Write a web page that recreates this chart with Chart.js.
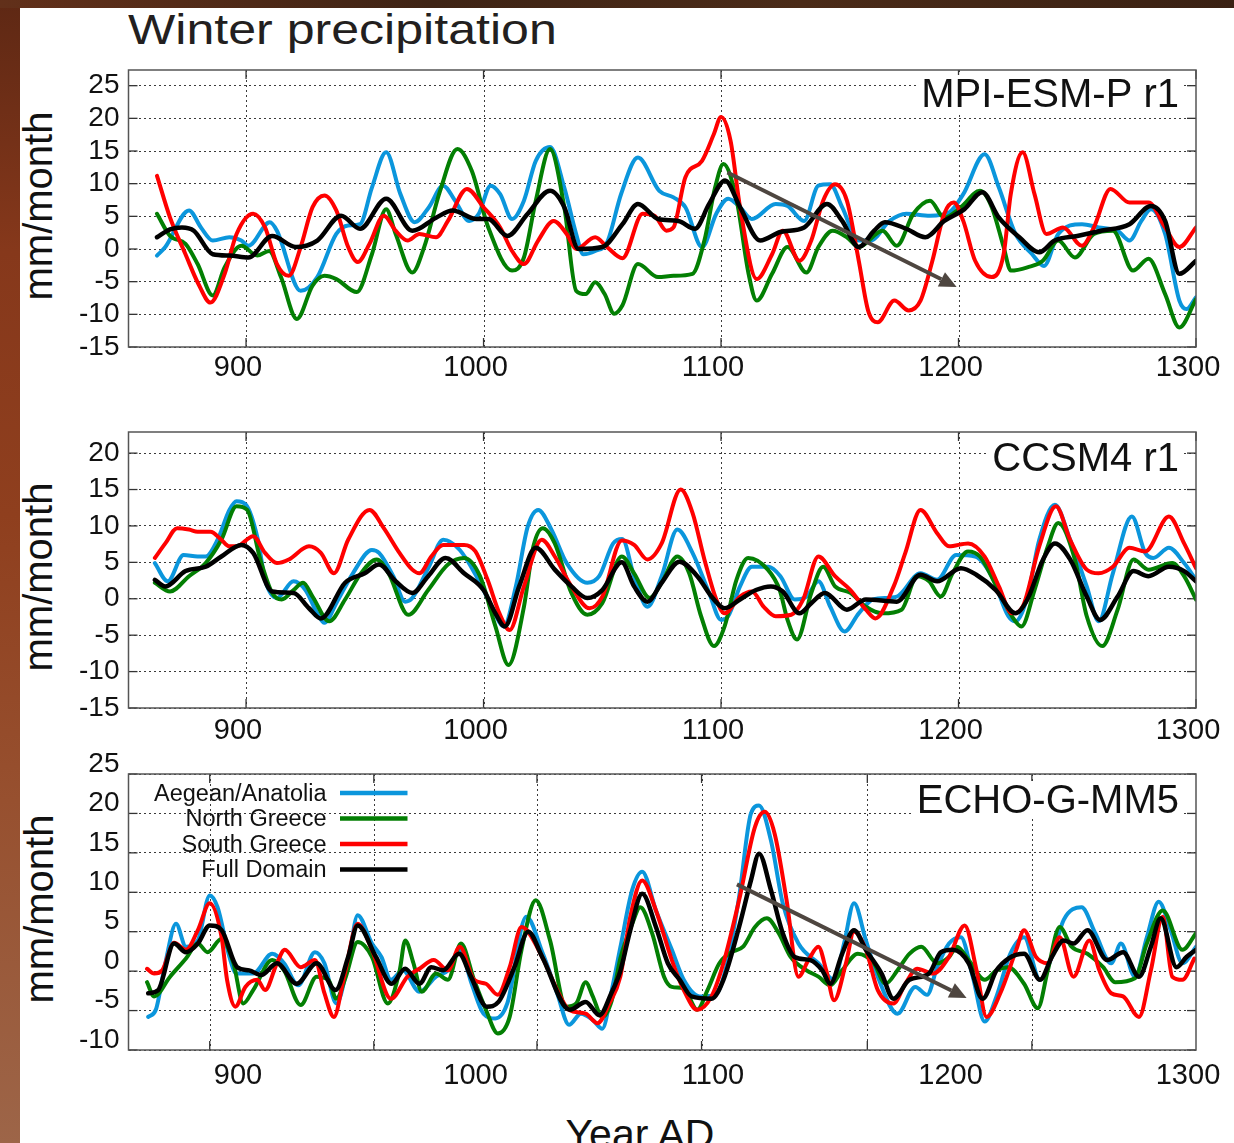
<!DOCTYPE html>
<html>
<head>
<meta charset="utf-8">
<title>Winter precipitation</title>
<script src="https://cdn.jsdelivr.net/npm/chart.js@4.4.1/dist/chart.umd.min.js"></script>
<style>
  html, body { margin: 0; padding: 0; }
  body {
    width: 1234px; height: 1143px; overflow: hidden; position: relative;
    background: linear-gradient(180deg, #5e2814 0%, #86381b 22%, #8f3f1e 45%, #97502f 70%, #9d6548 100%);
  }
  #topband { position: absolute; left: 0; top: 0; width: 1234px; height: 8px;
    background: linear-gradient(90deg, #62301a 0%, #3f2415 35%, #4b2b18 65%, #3a2113 100%); }
  #sheet { position: absolute; left: 20px; top: 8px; width: 1214px; height: 1135px; background: #fff; }
  .title { position: absolute; left: 128px; top: 8px; font: 43px/43px "Liberation Sans", Arial, sans-serif;
    color: #231f20; white-space: nowrap; transform: scaleX(1.165); transform-origin: left top; }
  .ylab { position: absolute; width: 300px; height: 40px; text-align: center; white-space: nowrap;
    font: 40px/40px "Liberation Sans", Arial, sans-serif; color: #111; transform: rotate(-90deg); }
  .xlab { position: absolute; left: 540px; width: 200px; top: 1114px; text-align: center;
    font: 41px/41px "Liberation Sans", Arial, sans-serif; color: #111; white-space: nowrap; }
  canvas { position: absolute; left: 0; }
</style>
</head>
<body>
<div id="topband"></div>
<div id="sheet"></div>
<div class="title">Winter precipitation</div>
<div class="ylab" style="left:-112px; top:186px;">mm/month</div>
<div class="ylab" style="left:-112px; top:557px;">mm/month</div>
<div class="ylab" style="left:-111px; top:889px;">mm/month</div>
<div class="xlab">Year AD</div>
<canvas id="c1" width="1234" height="354" style="top:41px"></canvas>
<canvas id="c2" width="1234" height="342" style="top:403px"></canvas>
<canvas id="c3" width="1234" height="398" style="top:745px"></canvas>
<script>
// series and labels
const seriesNames = ['Aegean/Anatolia', 'North Greece', 'South Greece', 'Full Domain'];
const panelNames = ['MPI-ESM-P r1', 'CCSM4 r1', 'ECHO-G-MM5'];
const xTickYears = [900, 1000, 1100, 1200, 1300];
// the ECHO panel has its vertical grid at other years than its labels
const echoGridYears = [884.7, 953.8, 1022.5, 1091.8, 1161.6, 1230.9];

// MPI-ESM-P r1  [year, mm/month]
const mpiAegean = [[862.5,-1.0],[866,0.3],[876,5.9],[881,3.3],[886,1.3],[893,1.8],[898,1.3],[901,0.5],[910,4.1],[913,2.8],[923,-6.4],[930,-4.3],[938,2.3],[943,3.6],[948,3.8],[953,9.4],[959,14.8],[965,8.4],[971,4.1],[977,6.4],[983,9.7],[988,7.4],[994,4.3],[998,5.4],[1003,9.7],[1007,8.4],[1012,4.6],[1017,7.4],[1022,13.5],[1028,15.6],[1034,9.4],[1039,2.3],[1042,-0.8],[1047,-0.3],[1052,1.0],[1058,8.5],[1065,14.0],[1074,8.9],[1080,7.9],[1085,6.4],[1092,0.3],[1098,5.4],[1103,7.7],[1108,6.4],[1113,4.6],[1123,6.9],[1128,6.6],[1135,4.3],[1141,9.7],[1146,9.9],[1151,6.4],[1158,1.3],[1163,1.3],[1171,4.3],[1178,5.4],[1188,5.1],[1196,5.6],[1202,8.4],[1211,14.5],[1217,9.4],[1224,2.3],[1231,-0.8],[1236,-2.6],[1242,2.3],[1252,3.8],[1259,3.3],[1267,2.8],[1272,1.3],[1277,4.3],[1281,6.1],[1287,2.3],[1293,-7.9],[1296,-9.2],[1300,-7.4]];
const mpiNorth = [[862.5,5.4],[868,2.0],[874.5,0.8],[879.6,-2.3],[886,-7.1],[891,-2.8],[898,0.5],[904.7,-1.0],[909.7,-0.3],[914.7,-4.3],[921.4,-10.7],[928,-5.6],[933,-4.1],[938,-4.6],[946.6,-6.6],[953,-0.8],[959,6.1],[963,2.3],[970,-3.6],[975,0.3],[981.7,8.9],[989,15.3],[995,12.0],[1002,3.3],[1012,-3.3],[1017,-1.3],[1022,7.4],[1028,15.3],[1034,6.4],[1039,-6.4],[1043,-6.9],[1047,-5.1],[1051,-6.9],[1055,-9.9],[1058.5,-8.6],[1065,-2.3],[1073.5,-4.3],[1080,-4.1],[1088,-3.8],[1093,1.3],[1097.5,9.4],[1101,13.0],[1106.6,7.4],[1111.6,-3.8],[1115,-7.9],[1121.5,-3.8],[1128,0.3],[1136,-3.6],[1141,0.3],[1147,2.8],[1153,1.8],[1158,0.3],[1168,2.8],[1174,0.5],[1181,5.4],[1188,7.4],[1194,4.8],[1201,6.4],[1209,8.9],[1214,6.4],[1219,0.3],[1222,-3.3],[1229,-2.8],[1235.5,-1.8],[1242,1.3],[1249,-1.3],[1257,2.3],[1265,2.8],[1273.5,-3.3],[1280,-1.5],[1287,-6.9],[1293,-12.0],[1300,-7.7]];
const mpiSouth = [[862.5,11.2],[868,4.8],[874.5,-0.8],[880,-5.4],[885,-8.2],[891,-3.8],[896,2.3],[903,5.4],[908,3.3],[913,-2.3],[918,-4.1],[923,0.3],[928,6.4],[933,8.2],[938,5.9],[943,0.3],[947,-2.0],[952,0.8],[958,5.1],[963,2.8],[968,1.3],[973,2.3],[980,1.8],[985,4.3],[993,9.2],[1000,6.4],[1007,3.3],[1012,-0.3],[1017,-2.3],[1023,1.3],[1029.5,4.3],[1035,2.3],[1039,0],[1047,1.8],[1052,0.3],[1058.5,-1.4],[1067,5.4],[1072,5.1],[1077,2.8],[1080,3.3],[1085,11.0],[1092,13.5],[1097,17.6],[1100,20.2],[1104,16.6],[1108,6.4],[1115,-4.6],[1121.5,-0.8],[1126,2.8],[1133,-1.8],[1138,1.3],[1143,7.4],[1148,9.9],[1153,7.4],[1158,-1.8],[1162,-9.5],[1166,-11.2],[1173,-7.9],[1179,-9.4],[1184,-7.9],[1189,-1.8],[1194,5.4],[1198,7.1],[1202,4.3],[1207,-1.8],[1214,-4.3],[1219,-0.8],[1222,8.4],[1227,14.8],[1232,8.4],[1237,2.3],[1244,3.3],[1252,0.5],[1257,3.3],[1264,9.2],[1272,7.1],[1280,7.1],[1287,3.3],[1293,0.3],[1300,3.3]];
const mpiFull = [[862.5,1.8],[868,3.0],[873,3.3],[878,2.8],[886,-0.8],[893,-1.0],[901,-1.3],[911,2.0],[921,0.3],[930,1.3],[940,5.1],[948,3.1],[959,7.7],[970,2.8],[980,4.8],[987,5.9],[997,4.6],[1002,4.6],[1010,2.0],[1018.6,5.4],[1028,8.9],[1034,6.4],[1040,0],[1050,0.3],[1058.5,3.8],[1065,6.9],[1073.5,4.6],[1082,4.3],[1089,3.1],[1095,6.9],[1101.7,10.5],[1108,6.4],[1116.5,1.3],[1125,2.6],[1135,3.3],[1144.6,6.9],[1151,4.3],[1158,0.3],[1164.5,2.8],[1169,4.1],[1178,3.1],[1186,1.8],[1194,4.3],[1202.5,6.1],[1210,8.7],[1217,4.8],[1225.6,1.8],[1234,-0.5],[1240.5,1.3],[1250,2.0],[1260,2.8],[1272,3.8],[1281,6.6],[1287,4.3],[1293,-3.8],[1300,-1.8]];

// CCSM4 r1
const ccsmAegean = [[861.6,4.9],[867,2.4],[873.7,6.0],[879.6,5.8],[883,5.8],[888,8.1],[893,12.2],[896,13.4],[900,12.9],[905,8.1],[908,2.6],[913,0.1],[920,2.4],[925,1.2],[930,-2.0],[933,-3.3],[938,-0.6],[945,3.5],[953,6.7],[956,6.3],[962,3.1],[967,-0.4],[970,0.1],[977,4.4],[983,8.1],[990,6.7],[997,3.1],[1003.5,-1.1],[1008.5,-3.8],[1013.6,1.7],[1018.6,9.9],[1023,12.2],[1028.6,9.5],[1035,4.9],[1043.7,2.2],[1048.7,3.1],[1054.6,7.6],[1058.4,8.2],[1063.4,3.1],[1069,-1.1],[1075,3.1],[1081.6,9.5],[1088,6.3],[1095,0.8],[1100,-2.9],[1103,-2.4],[1108,1.7],[1113,4.4],[1120,4.4],[1125,3.1],[1131,-0.1],[1136,0.3],[1141,2.4],[1146,-1.1],[1152,-4.5],[1158,-2.0],[1164,-0.1],[1174,0.3],[1184,3.5],[1191,2.6],[1199,6.0],[1207,5.8],[1214,3.1],[1221,-2.4],[1224,-3.1],[1229,0.3],[1234,8.1],[1240.6,12.9],[1247,8.1],[1254,1.7],[1259,-3.1],[1265,3.5],[1273,11.3],[1278.6,6.3],[1282,5.6],[1288.6,7.0],[1295,4.9],[1300,2.6]];
const ccsmNorth = [[861.6,2.2],[868,1.0],[876,3.1],[883,4.9],[889.6,8.1],[896,12.7],[900.5,12.2],[906,5.4],[911,0.8],[915,-0.1],[920,1.2],[924,2.2],[928,0.3],[935,-3.1],[941.7,-0.1],[948.4,3.5],[955,5.4],[960,3.5],[968.3,-2.2],[976.7,1.2],[985,4.7],[991.8,5.6],[998.5,3.1],[1005,-3.8],[1010.5,-9.1],[1017,-1.1],[1021,7.2],[1025,9.7],[1030,7.6],[1037,0.8],[1043.7,-2.2],[1050,-0.6],[1058.2,5.8],[1063.4,3.5],[1070,0.1],[1075,2.2],[1081.6,5.8],[1086.6,3.5],[1091.6,-2.4],[1097,-6.5],[1101.5,-3.8],[1106.5,2.6],[1111.4,5.6],[1119.7,4.0],[1124.7,1.2],[1128,-2.9],[1132,-5.6],[1138,0.8],[1143,4.4],[1148,1.7],[1154.5,0.8],[1161,-1.1],[1168,-2.0],[1176,-1.5],[1182.6,3.1],[1187.6,2.4],[1192.5,0.3],[1197.5,3.5],[1204,6.5],[1209,5.8],[1216,1.7],[1222.5,-2.4],[1226.5,-3.8],[1232,1.2],[1237.6,7.2],[1242,10.4],[1249,5.4],[1254,-2.4],[1260.5,-6.5],[1267,-1.5],[1273.7,5.4],[1280,4.0],[1290,4.9],[1295,3.1],[1300,-0.1]];
const ccsmSouth = [[861.6,5.6],[866,7.6],[871,9.7],[876,9.5],[879.6,9.2],[885,9.2],[889.6,8.1],[893,7.2],[896,7.2],[903,8.6],[908,6.3],[913,4.9],[918,5.4],[926.5,7.2],[931.5,6.3],[937,3.5],[943,8.1],[952,12.2],[958,9.7],[964.6,6.3],[970,4.0],[973,3.5],[978,5.8],[983,7.4],[991.8,7.4],[996.6,6.5],[1001.7,2.6],[1006.7,-2.0],[1011,-4.3],[1017,1.7],[1024.5,8.1],[1030,5.8],[1037,1.7],[1044.6,-1.3],[1050,0.3],[1058.2,8.0],[1063.4,7.4],[1069,5.4],[1075,7.6],[1083,15.0],[1088,11.8],[1093,5.4],[1098,-0.1],[1101.5,-2.0],[1108,0.3],[1113,1.0],[1118,-1.1],[1123,-2.4],[1129.6,-2.2],[1134.6,-0.1],[1141,5.8],[1148,3.1],[1154.5,1.2],[1161,-1.5],[1165,-2.7],[1172.7,1.7],[1177.6,6.3],[1184,12.2],[1191,9.0],[1196,7.2],[1204,7.6],[1211,5.8],[1217,1.7],[1222.5,-2.0],[1227,-1.1],[1234,7.2],[1241,12.7],[1247,8.1],[1254,4.0],[1259,3.5],[1265,4.4],[1272,7.0],[1278.6,6.5],[1288.6,11.3],[1295,7.6],[1300,4.2]];
const ccsmFull = [[861.6,2.6],[866,1.7],[874.5,3.8],[883,4.4],[889.6,5.8],[898,7.4],[903,6.3],[911,1.0],[920,0.8],[926.5,-1.3],[931.5,-2.7],[941.7,2.2],[950,3.5],[956,4.7],[963,2.4],[970,0.8],[976.7,3.1],[984,5.6],[991.8,3.5],[1000,1.2],[1005,-2.0],[1009,-3.8],[1015,1.7],[1022,7.0],[1030,4.0],[1037,1.7],[1043.7,0.1],[1050,1.2],[1058.2,5.0],[1063.4,1.7],[1069,-0.4],[1075,2.2],[1082.5,5.1],[1090,3.1],[1096.5,0.1],[1101.5,-1.3],[1108,-0.1],[1114.7,1.2],[1121,1.7],[1126,1.0],[1133,-2.0],[1138,-0.6],[1143.7,0.8],[1153,-1.5],[1161,-0.1],[1174,-0.4],[1184,3.3],[1191,2.4],[1201,4.2],[1207.5,3.3],[1215.7,1.2],[1224,-2.0],[1229,-0.1],[1235.6,5.4],[1240.6,7.6],[1247,5.4],[1254,0.3],[1259.6,-2.9],[1267,0.3],[1273.7,3.8],[1280,3.1],[1288.6,4.4],[1295,3.8],[1300,2.4]];

// ECHO-G-MM5
const echoAegean = [[858.8,-5.8],[862,-4.9],[866,1.0],[870.5,6.0],[874.7,3.1],[879.7,3.9],[884.7,9.6],[888,8.1],[893,1.8],[896,-0.3],[903,-0.3],[911,2.2],[916,1.0],[922,-1.8],[929,2.4],[933,1.0],[938,-4.1],[943,1.0],[947,7.1],[953,3.5],[957,1.8],[961,-1.1],[966,0.1],[973,-2.6],[980,-0.7],[985,0.1],[990,2.7],[995,-1.6],[1000,-5.4],[1005,-6.0],[1010,-4.1],[1018,6.9],[1025,2.2],[1031,-2.8],[1036,-6.8],[1041,-5.4],[1046,-6.2],[1050,-7.3],[1054,-2.4],[1057.6,3.0],[1062.6,10.3],[1066.8,12.6],[1072.6,7.7],[1079.3,2.7],[1084.3,-1.1],[1091,-3.2],[1097.6,-3.0],[1102.6,1.0],[1107.6,9.4],[1112.6,20.0],[1116,21.0],[1121,16.6],[1126,8.6],[1132.6,3.5],[1141,1.0],[1147.6,-1.1],[1151.8,3.5],[1156,8.6],[1161,3.9],[1166,-0.7],[1174.3,-5.4],[1181.8,-2.0],[1186.8,-3.0],[1191,0.5],[1196,3.5],[1201,4.3],[1206,-0.7],[1211,-6.4],[1216,-3.2],[1221.8,2.2],[1227.6,4.3],[1234.3,-1.1],[1239.3,1.8],[1244.3,6.5],[1251.8,8.1],[1257.6,4.8],[1264.3,1.0],[1268.4,3.5],[1274.3,-0.7],[1279.3,4.3],[1284.3,8.8],[1289.3,5.2],[1294.3,1.0],[1300,3.1]];
const echoNorth = [[858.3,-1.4],[861.3,-3.2],[868,-0.7],[874.7,1.6],[879.7,3.5],[883.8,2.4],[889.7,4.1],[894.7,1.0],[898.8,-4.1],[903,-2.4],[911,1.4],[916,0.1],[923,-4.3],[929.7,-0.7],[934.7,-1.1],[938,-3.5],[942,-0.7],[947,3.7],[953,1.8],[959.7,-4.1],[964.7,0.1],[967,3.9],[970.5,1.0],[974,-2.6],[980,-0.3],[985,-1.1],[990.5,3.5],[996,-1.1],[1001,-4.9],[1006,-7.9],[1011,-5.8],[1016,2.7],[1022,9.0],[1028,3.9],[1034.7,-4.5],[1039,-4.1],[1043,-1.4],[1046,-3.2],[1050,-5.8],[1054,-3.7],[1057.6,1.6],[1062.6,6.0],[1066,8.1],[1071,4.8],[1076,-0.7],[1079.3,-2.0],[1084.3,-2.2],[1090,-4.9],[1094.3,-2.4],[1099.3,1.0],[1104.3,2.4],[1109.3,3.1],[1114.3,5.6],[1119.3,6.7],[1124.3,4.8],[1129.3,1.8],[1136,0.1],[1141,-0.7],[1146,-1.8],[1151,0.1],[1157.6,2.2],[1164.3,1.0],[1169.3,-1.6],[1174.3,0.1],[1179.3,2.2],[1184.3,3.1],[1191,1.0],[1196,1.8],[1199.3,3.1],[1204.3,1.4],[1211,-1.1],[1216,0.1],[1221,0.5],[1227.6,-1.6],[1233.4,-4.7],[1237.6,0.1],[1242.6,5.6],[1247.6,3.1],[1254.3,2.2],[1260.9,0.5],[1265.9,-1.4],[1274.3,-0.9],[1279.3,3.5],[1286,7.7],[1294.3,2.7],[1300,4.8]];
const echoSouth = [[858.3,0.3],[861.3,-0.3],[864.7,0.1],[869.7,3.6],[874.7,2.7],[879.7,5.2],[884.7,8.6],[889.7,4.3],[892,-1.1],[895.5,-4.5],[899.7,-2.0],[904.7,-1.1],[908,-2.4],[913,1.0],[916.3,2.7],[923,0.5],[929,1.4],[933,-2.8],[937,-5.8],[941.3,-0.7],[947,6.0],[953,2.7],[961,-3.5],[968,-0.7],[973,0.3],[979,1.4],[985,0.1],[990,3.1],[996,-1.1],[1001,-1.6],[1006,-3.0],[1011,0.5],[1016,5.6],[1024.7,1.8],[1031,-2.4],[1036,-4.9],[1043,-5.4],[1048,-6.6],[1053,-4.1],[1057.6,-0.7],[1061.8,6.9],[1066.8,11.5],[1072.6,7.7],[1079.3,1.4],[1084.3,-2.4],[1090,-4.9],[1096,-3.2],[1101,1.0],[1107.6,9.0],[1114.3,18.3],[1118.4,20.2],[1122.6,17.4],[1127.6,9.0],[1132.6,-0.7],[1136.8,1.4],[1141,3.1],[1144.3,0.1],[1147.6,-3.7],[1152.6,1.0],[1156,5.0],[1161,2.7],[1166,-2.4],[1172.6,-4.1],[1177.6,-1.6],[1182.6,0.3],[1189.3,-0.3],[1196,1.8],[1202.6,5.8],[1207.6,0.1],[1211.8,-5.8],[1217.6,-2.8],[1224.3,2.7],[1227.6,5.2],[1232.6,1.8],[1237.6,1.0],[1242.6,4.3],[1248.4,-0.7],[1255.1,3.9],[1259.3,0.1],[1264.3,-2.8],[1269.3,-3.2],[1276,-5.8],[1281,0.1],[1286,6.9],[1290,-0.7],[1294.3,-1.1],[1299.3,1.6]];
const echoFull = [[858.8,-2.8],[863,-2.4],[869.7,3.5],[874.7,2.4],[879.7,3.5],[884.7,5.8],[889.7,5.2],[896.3,0.5],[901.3,0.1],[906.3,-0.5],[913,1.0],[921.3,-1.6],[929.7,1.0],[937.7,-2.4],[943,1.8],[947,5.8],[954.7,1.8],[961.3,-1.6],[967,0.3],[973,-1.6],[978,0.5],[983,0.1],[989.7,2.2],[994.7,-0.7],[1001.3,-4.5],[1006.3,-3.9],[1013,0.5],[1018.8,5.0],[1024.7,1.8],[1036.3,-4.9],[1043,-3.9],[1048.8,-5.6],[1053.8,-2.8],[1057.6,0.0],[1061.8,5.2],[1066.8,9.8],[1072.6,5.6],[1077.6,1.0],[1082.6,-1.1],[1087.6,-3.2],[1096,-3.5],[1101,-1.1],[1107.6,5.6],[1112.6,11.5],[1116,14.9],[1121,10.3],[1126,4.8],[1131,1.8],[1137.6,1.4],[1142.6,0.1],[1146,-1.6],[1151,2.2],[1156,5.2],[1161,2.7],[1167.6,-0.3],[1172.6,-3.5],[1179.3,-1.1],[1187.6,-0.3],[1192.6,2.4],[1197.6,2.7],[1204.3,1.0],[1210.1,-3.5],[1216,0.1],[1221,1.6],[1227.6,2.2],[1234.3,-1.1],[1239.3,1.8],[1244.3,3.9],[1248.4,3.5],[1254.3,5.2],[1262.6,1.4],[1269.3,2.4],[1276,-0.7],[1281,3.1],[1285.1,6.7],[1291.8,0.5],[1296,1.8],[1300,2.7]];

// trend arrows, [year, mm/month] of tail and head
const mpiArrow = [[1102.7, 11.7], [1199.2, -5.8]];
const echoArrow = [[1106.7, 11.0], [1203.4, -3.4]];

const colors = ['#0b96dc', '#037f03', '#ff0000', '#000000'];
const FONT = '"Liberation Sans", Arial, sans-serif';

function line(ctx, x1, y1, x2, y2) {
  ctx.beginPath(); ctx.moveTo(x1, y1); ctx.lineTo(x2, y2); ctx.stroke();
}

const panelDecor = {
  id: 'panelDecor',
  beforeDatasetsDraw(chart, args, o) {
    const ctx = chart.ctx, a = chart.chartArea, x = chart.scales.x, y = chart.scales.y;
    ctx.save();
    // dotted vertical grid
    ctx.strokeStyle = '#3a3a3a';
    ctx.lineWidth = 1;
    ctx.setLineDash([2, 3]);
    o.gridX.forEach(v => {
      const px = Math.round(x.getPixelForValue(v)) + 0.5;
      if (px < a.right - 3) line(ctx, px, a.top, px, a.bottom);
    });
    ctx.setLineDash([]);
    // inner tick marks on all four sides
    ctx.strokeStyle = '#333';
    ctx.lineWidth = 1.3;
    y.ticks.forEach(t => {
      const py = y.getPixelForValue(t.value);
      line(ctx, a.left, py, a.left + 9, py);
      line(ctx, a.right - 9, py, a.right, py);
    });
    o.gridX.forEach(v => {
      const px = x.getPixelForValue(v);
      line(ctx, px, a.top, px, a.top + 9);
      line(ctx, px, a.bottom - 9, px, a.bottom);
    });
    // model name, on a white patch
    ctx.font = '40px ' + FONT;
    const w = ctx.measureText(o.name).width;
    ctx.fillStyle = '#fff';
    ctx.fillRect(a.right - 17 - w - 4, a.top + o.nameY - 32, w + 8, 38);
    ctx.fillStyle = '#111';
    ctx.textAlign = 'right';
    ctx.textBaseline = 'alphabetic';
    ctx.fillText(o.name, a.right - 17, a.top + o.nameY);
    ctx.restore();
  },
  afterDatasetsDraw(chart, args, o) {
    const ctx = chart.ctx, a = chart.chartArea, x = chart.scales.x, y = chart.scales.y;
    ctx.save();
    ctx.strokeStyle = '#555';
    ctx.lineWidth = 1.5;
    ctx.strokeRect(a.left, a.top, a.right - a.left, a.bottom - a.top);

    if (o.arrow) {
      const x1 = x.getPixelForValue(o.arrow[0][0]), y1 = y.getPixelForValue(o.arrow[0][1]);
      const x2 = x.getPixelForValue(o.arrow[1][0]), y2 = y.getPixelForValue(o.arrow[1][1]);
      const ang = Math.atan2(y2 - y1, x2 - x1), head = 17, half = 8;
      const bx = x2 - head * Math.cos(ang), by = y2 - head * Math.sin(ang);
      ctx.strokeStyle = '#4e4640';
      ctx.fillStyle = '#4e4640';
      ctx.lineWidth = 4;
      line(ctx, x1, y1, bx, by);
      ctx.beginPath();
      ctx.moveTo(x2, y2);
      ctx.lineTo(bx + half * Math.sin(ang), by - half * Math.cos(ang));
      ctx.lineTo(bx - half * Math.sin(ang), by + half * Math.cos(ang));
      ctx.closePath();
      ctx.fill();
    }

    if (o.legend) {
      ctx.font = '23.5px ' + FONT;
      ctx.textAlign = 'right';
      ctx.textBaseline = 'alphabetic';
      chart.data.datasets.forEach((ds, i) => {
        const ry = a.top + 19 + i * 25.5;
        ctx.fillStyle = '#111';
        ctx.fillText(ds.label, a.left + 198, ry + 7.5);
        ctx.strokeStyle = ds.borderColor;
        ctx.lineWidth = 4.5;
        line(ctx, a.left + 211.5, ry, a.left + 279, ry);
      });
    }
    ctx.restore();
  }
};

const panels = [
  { canvas: 'c1', name: panelNames[0], series: [mpiAegean, mpiNorth, mpiSouth, mpiFull],
    yMin: -15, yMax: 27.4, padTop: 29, xAxisH: 48, xPad: 4, yLabelShift: 0,
    gridX: xTickYears, nameY: 37, arrow: mpiArrow, legend: false },
  { canvas: 'c2', name: panelNames[1], series: [ccsmAegean, ccsmNorth, ccsmSouth, ccsmFull],
    yMin: -15, yMax: 22.9, padTop: 29, xAxisH: 37, xPad: 6, yLabelShift: 0,
    gridX: xTickYears, nameY: 39, arrow: null, legend: false },
  { canvas: 'c3', name: panelNames[2], series: [echoAegean, echoNorth, echoSouth, echoFull],
    yMin: -10, yMax: 25, padTop: 29, xAxisH: 93, xPad: 9, yLabelShift: -10,
    gridX: echoGridYears, nameY: 39, arrow: echoArrow, legend: true }
];

panels.forEach(p => {
  new Chart(document.getElementById(p.canvas), {
    type: 'line',
    data: {
      datasets: p.series.map((s, i) => ({
        label: seriesNames[i],
        data: s.map(pt => ({ x: pt[0], y: pt[1] })),
        borderColor: colors[i],
        borderWidth: i === 3 ? 4.5 : 4,
        pointRadius: 0,
        cubicInterpolationMode: 'monotone',
        borderJoinStyle: 'round',
        borderCapStyle: 'round',
        fill: false,
        order: 4 - i
      }))
    },
    options: {
      responsive: false,
      animation: false,
      events: [],
      layout: { padding: { top: p.padTop, right: 38, left: 0, bottom: 0 } },
      plugins: {
        legend: { display: false },
        tooltip: { enabled: false },
        panelDecor: { name: p.name, nameY: p.nameY, gridX: p.gridX, arrow: p.arrow, legend: p.legend }
      },
      scales: {
        x: {
          type: 'linear', min: 850.5, max: 1300,
          afterBuildTicks: s => { s.ticks = xTickYears.map(v => ({ value: v })); },
          // fixed axis height, and no extra side padding so every panel shares one plot width
          afterFit: s => { s.height = p.xAxisH; s.paddingLeft = 0; s.paddingRight = 0; },
          grid: { display: false, drawTicks: false },
          border: { display: false },
          ticks: { autoSkip: false, maxRotation: 0, padding: p.xPad, labelOffset: -8,
                   callback: v => String(v),
                   color: '#111', font: { family: FONT, size: 29 } }
        },
        y: {
          type: 'linear', min: p.yMin, max: p.yMax,
          afterFit: s => { s.width = 128.5; s.paddingTop = 0; s.paddingBottom = 0; },
          grid: { color: '#3a3a3a', lineWidth: 1, drawTicks: false, borderDash: [2, 3] },
          border: { display: false, dash: [2, 3] },
          ticks: { stepSize: 5, includeBounds: false, autoSkip: false, padding: 9, labelOffset: p.yLabelShift,
                   callback: v => String(v),
                   color: '#111', font: { family: FONT, size: 28 } }
        }
      }
    },
    plugins: [panelDecor]
  });
});
</script>
</body>
</html>
